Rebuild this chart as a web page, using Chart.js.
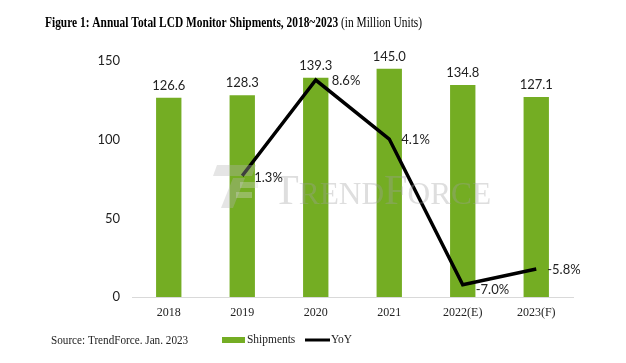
<!DOCTYPE html>
<html>
<head>
<meta charset="utf-8">
<script src="https://cdn.jsdelivr.net/npm/chart.js@4.4.0/dist/chart.umd.min.js"></script>
<style>
  html, body { margin: 0; padding: 0; background: #fff; }
  #box { width: 626px; height: 363px; }
</style>
</head>
<body>
<div id="box"><canvas id="grafico"></canvas></div>
<script>
// dados
const anos = ['2018', '2019', '2020', '2021', '2022(E)', '2023(F)'];
const embarques = [126.6, 128.3, 139.3, 145.0, 134.8, 127.1];
const yoy = [null, 1.3, 8.6, 4.1, -7.0, -5.8];
const ticksY = [0, 50, 100, 150];

const titulo = 'Figure 1: Annual Total LCD Monitor Shipments, 2018~2023';
const subtitulo = ' (in Million Units)';
const fonte = 'Source: TrendForce. Jan. 2023';

const verde = '#74AD23';
const sans = '"Liberation Sans Narrow", Lato, sans-serif';
const serif = '"Liberation Serif", "Times New Roman", serif';

// escreve texto comprimido na horizontal (o original parece achatado)
function texto(ctx, str, x, y, sx) {
    ctx.save();
    ctx.translate(x, y);
    ctx.scale(sx, 1);
    ctx.fillText(str, 0, 0);
    ctx.restore();
    return ctx.measureText(str).width * sx;
}

// textos, rotulos, legenda e marca d'agua
const extras = {
    id: 'extras',
    afterDatasetsDraw(chart) {
        const ctx = chart.ctx;
        const barras = chart.getDatasetMeta(0).data;
        const linha = chart.getDatasetMeta(1).data;

        // marca d'agua
        ctx.save();
        ctx.globalAlpha = 0.35;
        ctx.fillStyle = '#b4b4b4';
        ctx.beginPath();
        ctx.moveTo(217, 165); ctx.lineTo(256, 165); ctx.lineTo(252, 176); ctx.lineTo(213, 176);
        ctx.closePath(); ctx.fill();
        ctx.beginPath();
        ctx.moveTo(233, 178); ctx.lineTo(245, 178); ctx.lineTo(233, 208); ctx.lineTo(221, 208);
        ctx.closePath(); ctx.fill();
        ctx.fillStyle = '#d8d8d8';
        ctx.fillRect(240, 182, 18, 6);
        ctx.fillRect(236, 192, 16, 6);
        ctx.fillStyle = '#a0a0a0';
        ctx.textBaseline = 'alphabetic';
        ctx.textAlign = 'left';
        let x = 273;
        const partes = [['T', 43], ['REND', 32], ['F', 43], ['ORCE', 32]];
        partes.forEach(p => {
            ctx.font = p[1] + 'px ' + serif;
            x += texto(ctx, p[0], x, 204, 0.98);
        });
        ctx.restore();

        // rotulos das barras
        ctx.save();
        ctx.fillStyle = '#222';
        ctx.font = '13px ' + sans;
        ctx.textAlign = 'center';
        ctx.textBaseline = 'bottom';
        barras.forEach((b, i) => {
            ctx.fillText(embarques[i].toFixed(1), b.x, b.y - 6);
        });

        // rotulos da linha
        const dx = [0, 12, 16, 12, 13, 11];
        const dy = [0, 2, 1, 1, 5, 1];
        ctx.textAlign = 'left';
        ctx.textBaseline = 'middle';
        linha.forEach((p, i) => {
            if (yoy[i] === null) return;
            ctx.fillText(yoy[i].toFixed(1) + '%', p.x + dx[i], p.y + dy[i]);
        });
        ctx.restore();
    },
    afterDraw(chart) {
        const ctx = chart.ctx;
        ctx.save();
        ctx.fillStyle = '#000';
        ctx.textBaseline = 'middle';
        ctx.textAlign = 'left';
        ctx.font = 'bold 14px ' + serif;
        const w = texto(ctx, titulo, 45, 23, 0.815);
        ctx.font = '14px ' + serif;
        texto(ctx, subtitulo, 45 + w, 23, 0.815);

        ctx.fillStyle = '#222';
        ctx.font = '13px ' + serif;
        texto(ctx, fonte, 51, 341, 0.86);

        // legenda
        ctx.fillStyle = verde;
        ctx.fillRect(222, 337, 23, 6);
        ctx.fillStyle = '#222';
        ctx.font = '13px ' + serif;
        texto(ctx, chart.data.datasets[0].label, 247, 340, 0.88);
        ctx.strokeStyle = '#000';
        ctx.lineWidth = 3;
        ctx.beginPath();
        ctx.moveTo(305, 340);
        ctx.lineTo(330, 340);
        ctx.stroke();
        texto(ctx, chart.data.datasets[1].label, 331, 340, 0.88);
        ctx.restore();
    }
};

new Chart(document.getElementById('grafico'), {
    type: 'bar',
    data: {
        labels: anos,
        datasets: [
            {
                type: 'bar',
                label: 'Shipments',
                data: embarques,
                backgroundColor: verde,
                borderWidth: 0,
                categoryPercentage: 1,
                barPercentage: 0.345,
                yAxisID: 'y',
                order: 2
            },
            {
                type: 'line',
                label: 'YoY',
                data: yoy,
                borderColor: '#000',
                borderWidth: 3.5,
                pointRadius: 0,
                tension: 0,
                fill: false,
                spanGaps: false,
                yAxisID: 'y2',
                order: 1
            }
        ]
    },
    options: {
        responsive: true,
        maintainAspectRatio: false,
        animation: false,
        layout: { padding: { left: 90, right: 53, top: 61, bottom: 0 } },
        plugins: {
            legend: { display: false },
            tooltip: { enabled: false }
        },
        scales: {
            x: {
                grid: { display: false, drawTicks: false },
                border: { display: true, color: '#d9d9d9', width: 1 },
                ticks: {
                    padding: 9,
                    color: '#222',
                    font: { family: serif, size: 12 }
                },
                afterFit: s => { s.height = 66; }
            },
            y: {
                min: 0,
                max: 150,
                afterBuildTicks: s => { s.ticks = ticksY.map(v => ({ value: v })); },
                grid: { display: false, drawTicks: false },
                border: { display: false },
                ticks: {
                    padding: 12,
                    color: '#222',
                    font: { family: sans, size: 13 }
                },
                afterFit: s => { s.width = 42; }
            },
            y2: {
                display: false,
                min: -7.94,
                max: 10.05
            }
        }
    },
    plugins: [extras]
});
</script>
</body>
</html>
